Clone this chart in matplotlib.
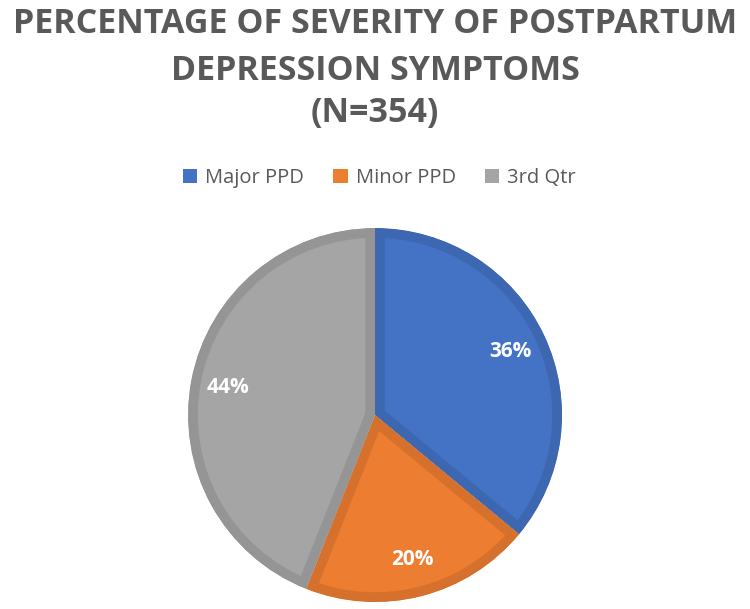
import matplotlib.pyplot as plt
from matplotlib.patches import Patch

# data
labels = ["Major PPD", "Minor PPD", "3rd Qtr"]
values = [36, 20, 44]
colors = ["#4472C4", "#ED7D31", "#A5A5A5"]
edge_colors = ["#3E67B1", "#D5712C", "#959595"]
title_lines = ["PERCENTAGE OF SEVERITY OF POSTPARTUM", "DEPRESSION SYMPTOMS", "(N=354)"]

title_font = ["Open Sans", "DejaVu Sans"]
body_font = ["Open Sans", "DejaVu Sans"]

fig = plt.figure(figsize=(7.5, 6.09), dpi=100)
ax = fig.add_axes([0.2507, 0.0115, 0.4987, 0.614])

wedges, texts, autotexts = ax.pie(values, colors=colors, startangle=90, counterclock=False,
                                  autopct="%1.0f%%", pctdistance=0.8, radius=1)
for w, ec in zip(wedges, edge_colors):
    w.set_edgecolor(ec)
    w.set_linewidth(14)
    # keep only the inner half of the border (pie turns clipping off)
    w.set_clip_on(True)
    w.set_clip_path(w.get_path(), w.get_transform())
for t in autotexts:
    t.set_color("white")
    t.set_fontsize(15)
    t.set_fontweight("bold")
    t.set_family(body_font)
ax.set_xlim(-1, 1)
ax.set_ylim(-1, 1)
ax.set_aspect("equal")
ax.axis("off")

# title
ys = [0.960, 0.883, 0.814]
for line, y in zip(title_lines, ys):
    fig.text(0.5, y, line, ha="center", va="center", fontsize=24.5, fontweight="bold",
             color="#595959", family=title_font)

# legend
handles = [Patch(facecolor=c, edgecolor="none") for c in colors]
fig.legend(handles, labels, loc="center", bbox_to_anchor=(0.506, 0.708), ncol=3,
           frameon=False, handlelength=0.7, handleheight=0.7, handletextpad=0.4,
           columnspacing=1.45, prop={"family": body_font, "size": 14.5}, labelcolor="#595959")

fig.savefig("out.png", dpi=100)
